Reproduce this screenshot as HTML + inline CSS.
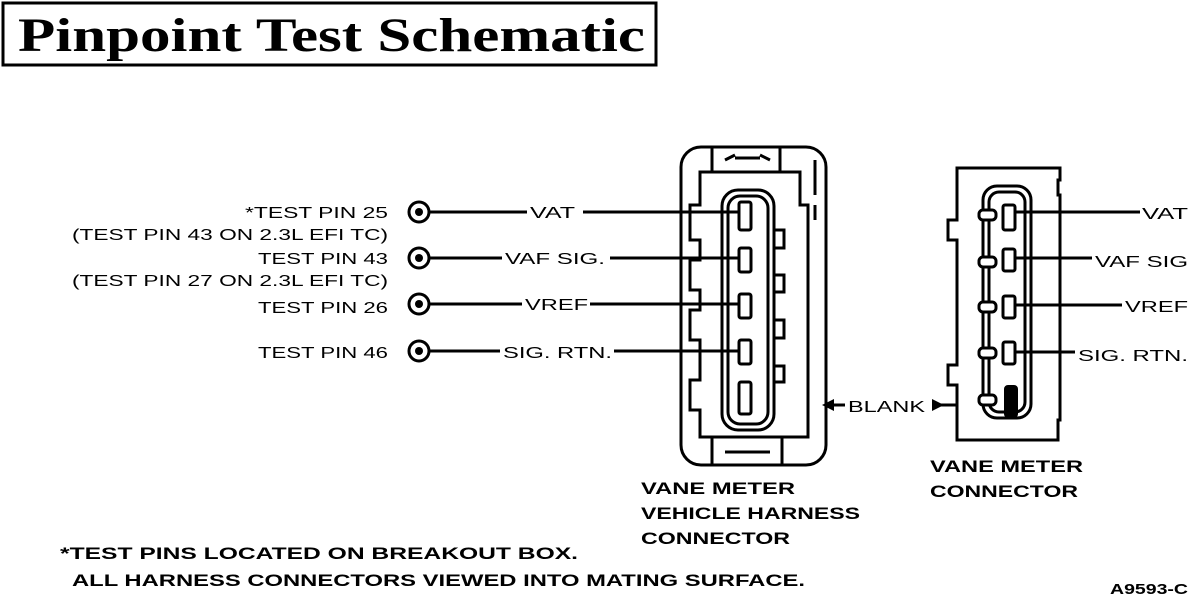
<!DOCTYPE html>
<html><head><style>body{margin:0;background:#fff}svg{display:block}</style></head><body>
<svg width="1200" height="600" viewBox="0 0 1200 600" xmlns="http://www.w3.org/2000/svg" font-family="Liberation Sans, sans-serif">
<rect x="0" y="0" width="1200" height="600" fill="#fff"/>
<rect x="3" y="3" width="653" height="62" fill="none" stroke="#000" stroke-width="3"/>
<text x="18" y="51" font-family="Liberation Serif, serif" font-weight="bold" font-size="48" textLength="627" lengthAdjust="spacingAndGlyphs">Pinpoint Test Schematic</text>

<g font-size="16" fill="#000" lengthAdjust="spacingAndGlyphs">
<text x="245" y="218" textLength="143" lengthAdjust="spacingAndGlyphs">*TEST PIN 25</text>
<text x="72" y="240" textLength="316" lengthAdjust="spacingAndGlyphs">(TEST PIN 43 ON 2.3L EFI TC)</text>
<text x="258" y="264" textLength="130" lengthAdjust="spacingAndGlyphs">TEST PIN 43</text>
<text x="72" y="286" textLength="316" lengthAdjust="spacingAndGlyphs">(TEST PIN 27 ON 2.3L EFI TC)</text>
<text x="258" y="313" textLength="130" lengthAdjust="spacingAndGlyphs">TEST PIN 26</text>
<text x="258" y="358" textLength="130" lengthAdjust="spacingAndGlyphs">TEST PIN 46</text>
<text x="530" y="218" textLength="45" lengthAdjust="spacingAndGlyphs">VAT</text>
<text x="505" y="264" textLength="100" lengthAdjust="spacingAndGlyphs">VAF SIG.</text>
<text x="525" y="310" textLength="63" lengthAdjust="spacingAndGlyphs">VREF</text>
<text x="503" y="358" textLength="109" lengthAdjust="spacingAndGlyphs">SIG. RTN.</text>
<text x="1142" y="219" textLength="46" lengthAdjust="spacingAndGlyphs">VAT</text>
<text x="1095" y="267" textLength="93" lengthAdjust="spacingAndGlyphs">VAF SIG</text>
<text x="1125" y="312" textLength="63" lengthAdjust="spacingAndGlyphs">VREF</text>
<text x="1078" y="361" textLength="110" lengthAdjust="spacingAndGlyphs">SIG. RTN.</text>
<text x="848" y="412" textLength="77" lengthAdjust="spacingAndGlyphs">BLANK</text>
</g>
<g font-size="17" font-weight="bold">
<text x="641" y="494" textLength="154" lengthAdjust="spacingAndGlyphs">VANE METER</text>
<text x="641" y="519" textLength="219" lengthAdjust="spacingAndGlyphs">VEHICLE HARNESS</text>
<text x="641" y="544" textLength="149" lengthAdjust="spacingAndGlyphs">CONNECTOR</text>
<text x="930" y="472" textLength="153" lengthAdjust="spacingAndGlyphs">VANE METER</text>
<text x="930" y="497" textLength="148" lengthAdjust="spacingAndGlyphs">CONNECTOR</text>
<text x="60" y="559" textLength="518" lengthAdjust="spacingAndGlyphs">*TEST PINS LOCATED ON BREAKOUT BOX.</text>
<text x="72" y="586" textLength="733" lengthAdjust="spacingAndGlyphs">ALL HARNESS CONNECTORS VIEWED INTO MATING SURFACE.</text>
<text x="1110" y="594" font-size="15" textLength="78" lengthAdjust="spacingAndGlyphs">A9593-C</text>
</g>

<g fill="none" stroke="#000" stroke-width="3">
<circle cx="419" cy="212" r="10"/><circle cx="419" cy="258" r="10"/><circle cx="419" cy="304" r="10"/><circle cx="419" cy="351" r="10"/>
</g>
<g fill="#000"><circle cx="419" cy="212" r="4"/><circle cx="419" cy="258" r="4"/><circle cx="419" cy="304" r="4"/><circle cx="419" cy="351" r="4"/></g>
<g stroke="#000" stroke-width="3">
<line x1="429" y1="212" x2="527" y2="212"/><line x1="583" y1="212" x2="740" y2="212"/>
<line x1="429" y1="258" x2="502" y2="258"/><line x1="610" y1="258" x2="740" y2="258"/>
<line x1="429" y1="304" x2="522" y2="304"/><line x1="590" y1="304" x2="740" y2="304"/>
<line x1="429" y1="351" x2="500" y2="351"/><line x1="614" y1="351" x2="740" y2="351"/>
<line x1="1015" y1="212" x2="1140" y2="212"/>
<line x1="1015" y1="258" x2="1092" y2="258"/>
<line x1="1015" y1="305" x2="1122" y2="305"/>
<line x1="1015" y1="352" x2="1075" y2="352"/>
<line x1="826" y1="405" x2="845" y2="405"/>
<line x1="932" y1="405" x2="957" y2="405"/>
</g>
<polygon points="822,405 834,399 834,411" fill="#000"/>
<polygon points="944,405 932,399 932,411" fill="#000"/>

<!-- left connector -->
<g fill="none" stroke="#000" stroke-width="3">
<rect x="681" y="147" width="145" height="318" rx="20"/>
<path d="M712,147 V172 H780 V147"/>
<path d="M712,465 V437 H782 V465"/>
<path d="M725,160 L735,155 M770,160 L760,155 M735,158 H760"/>
<path d="M725,452 H770 M735,452 H760"/>
<path d="M700,172 H800 V205 H808 V437 H700 V410 H690 V380 H700 V340 H690 V310 H700 V290 H690 V260 H700 V240 H690 V205 H700 Z"/>
<rect x="722" y="190" width="52" height="240" rx="16"/>
<rect x="728" y="196" width="40" height="228" rx="12"/>
<path d="M815,160 V195 M815,205 V220"/>
<rect x="739" y="202" width="12" height="28" rx="2"/>
<rect x="739" y="248" width="12" height="24" rx="2"/>
<rect x="739" y="294" width="12" height="24" rx="2"/>
<rect x="739" y="340" width="12" height="24" rx="2"/>
<rect x="739" y="382" width="12" height="32" rx="2"/>
<path d="M774,230 H784 V248 H774 M774,275 H784 V292 H774 M774,320 H784 V338 H774 M774,366 H784 V382 H774"/>
</g>

<!-- right connector -->
<g fill="none" stroke="#000" stroke-width="3">
<path d="M957,168 H1060 V180 H1058 V195 H1060 V420 H1058 V440 H957 V385 H948 V365 H957 V240 H948 V220 H957 Z"/>
<rect x="983" y="186" width="48" height="232" rx="14"/>
<rect x="989" y="192" width="36" height="220" rx="10"/>
<rect x="1003" y="205" width="12" height="25" rx="2"/>
<rect x="1003" y="249" width="12" height="22" rx="2"/>
<rect x="1003" y="296" width="12" height="22" rx="2"/>
<rect x="1003" y="342" width="12" height="22" rx="2"/>
</g>
<g fill="#fff" stroke="#000" stroke-width="3">
<rect x="979" y="210" width="17" height="10" rx="4"/>
<rect x="979" y="257" width="17" height="10" rx="4"/>
<rect x="979" y="302" width="17" height="10" rx="4"/>
<rect x="979" y="348" width="17" height="10" rx="4"/>
<rect x="979" y="395" width="17" height="10" rx="4"/>
</g>
<rect x="1004" y="385" width="14" height="33" rx="4" fill="#000"/>
</svg>
</body></html>
